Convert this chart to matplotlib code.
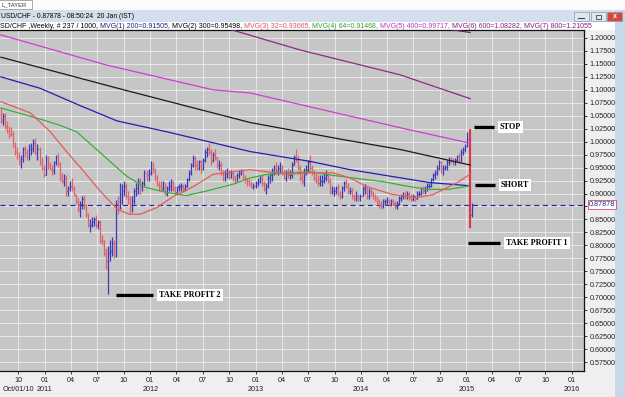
import numpy as np
import pandas as pd
import matplotlib
matplotlib.use("Agg")
import matplotlib.pyplot as plt
import matplotlib.dates as mdates
from matplotlib.patches import Rectangle

plt.rcParams['font.family'] = ['Liberation Sans', 'DejaVu Sans']

# ── DATA (weekly USD/CHF bars) ───────────────────────────────────
first_week = "2010-08-02"
first_open = 1.052
week_high = [
    # 2010
    1.064, 1.055, 1.056, 1.040, 1.030, 1.028, 1.020, 1.000, 0.990, 0.980, 0.975, 0.990, 0.992,
    0.985, 0.995, 0.998, 1.005, 1.008, 0.995, 0.990, 0.970, 0.955,
    # 2011
    0.975, 0.972, 0.960, 0.955, 0.962, 0.975, 0.978, 0.960, 0.940, 0.938, 0.935, 0.915, 0.925,
    0.930, 0.915, 0.900, 0.892, 0.885, 0.895, 0.898, 0.880, 0.862, 0.850, 0.855, 0.855, 0.858,
    0.848, 0.848, 0.820, 0.810, 0.795, 0.798, 0.810, 0.817, 0.810, 0.888, 0.895, 0.920, 0.918,
    0.925, 0.920, 0.905, 0.895, 0.895, 0.910, 0.920, 0.930, 0.930, 0.925, 0.945, 0.945, 0.948,
    # 2012
    0.962, 0.960, 0.950, 0.935, 0.925, 0.925, 0.925, 0.920, 0.915, 0.925, 0.928, 0.925, 0.915,
    0.915, 0.918, 0.920, 0.918, 0.918, 0.930, 0.945, 0.958, 0.975, 0.972, 0.965, 0.965, 0.965,
    0.968, 0.985, 0.990, 0.998, 0.985, 0.980, 0.985, 0.970, 0.965, 0.960, 0.945, 0.945, 0.950,
    0.945, 0.945, 0.942, 0.935, 0.940, 0.945, 0.948, 0.945, 0.935, 0.930, 0.928, 0.925, 0.920,
    0.925,
    # 2013
    0.930, 0.935, 0.935, 0.925, 0.920, 0.935, 0.940, 0.950, 0.955, 0.960, 0.955, 0.960, 0.955,
    0.945, 0.945, 0.950, 0.945, 0.960, 0.975, 0.985, 0.975, 0.955, 0.940, 0.950, 0.955, 0.965,
    0.975, 0.955, 0.945, 0.940, 0.935, 0.935, 0.935, 0.940, 0.945, 0.940, 0.930, 0.915, 0.912,
    0.915, 0.918, 0.905, 0.915, 0.925, 0.928, 0.920, 0.912, 0.910, 0.900, 0.905, 0.900, 0.900,
    # 2014
    0.915, 0.918, 0.912, 0.910, 0.910, 0.905, 0.900, 0.895, 0.890, 0.885, 0.890, 0.890, 0.893,
    0.890, 0.890, 0.890, 0.885, 0.885, 0.895, 0.900, 0.902, 0.905, 0.905, 0.902, 0.900, 0.900,
    0.898, 0.905, 0.905, 0.912, 0.915, 0.915, 0.920, 0.920, 0.930, 0.940, 0.945, 0.955, 0.965,
    0.962, 0.955, 0.955, 0.965, 0.970, 0.970, 0.968, 0.968, 0.975, 0.978, 0.985, 0.990, 0.995,
    # 2015
    1.018, 1.025, 0.882,
]
week_low = [
    # 2010
    1.036, 1.033, 1.025, 1.017, 1.008, 1.010, 0.990, 0.975, 0.967, 0.955, 0.950, 0.960, 0.970,
    0.964, 0.965, 0.975, 0.980, 0.975, 0.965, 0.955, 0.945, 0.932,
    # 2011
    0.935, 0.948, 0.945, 0.935, 0.938, 0.955, 0.952, 0.925, 0.920, 0.915, 0.895, 0.895, 0.905,
    0.905, 0.895, 0.880, 0.865, 0.855, 0.870, 0.870, 0.855, 0.835, 0.825, 0.835, 0.838, 0.833,
    0.832, 0.805, 0.800, 0.780, 0.755, 0.707, 0.770, 0.780, 0.775, 0.778, 0.860, 0.870, 0.880,
    0.895, 0.890, 0.880, 0.862, 0.865, 0.880, 0.895, 0.900, 0.900, 0.905, 0.915, 0.925, 0.925,
    # 2012
    0.935, 0.940, 0.925, 0.915, 0.905, 0.905, 0.905, 0.898, 0.895, 0.905, 0.905, 0.905, 0.900,
    0.900, 0.905, 0.905, 0.902, 0.905, 0.912, 0.925, 0.935, 0.952, 0.945, 0.945, 0.945, 0.940,
    0.945, 0.960, 0.970, 0.975, 0.955, 0.960, 0.965, 0.950, 0.945, 0.935, 0.925, 0.925, 0.930,
    0.928, 0.930, 0.925, 0.920, 0.925, 0.930, 0.935, 0.928, 0.920, 0.915, 0.915, 0.910, 0.908,
    0.910,
    # 2013
    0.915, 0.920, 0.915, 0.905, 0.900, 0.910, 0.920, 0.925, 0.935, 0.940, 0.935, 0.940, 0.935,
    0.928, 0.925, 0.930, 0.928, 0.930, 0.955, 0.960, 0.945, 0.925, 0.918, 0.915, 0.935, 0.940,
    0.945, 0.935, 0.925, 0.920, 0.915, 0.915, 0.915, 0.920, 0.925, 0.920, 0.900, 0.900, 0.895,
    0.900, 0.895, 0.890, 0.892, 0.905, 0.910, 0.900, 0.900, 0.890, 0.885, 0.885, 0.885, 0.885,
    # 2014
    0.895, 0.900, 0.890, 0.890, 0.895, 0.890, 0.885, 0.880, 0.873, 0.870, 0.872, 0.878, 0.880,
    0.875, 0.875, 0.878, 0.870, 0.870, 0.878, 0.885, 0.890, 0.890, 0.890, 0.888, 0.885, 0.885,
    0.885, 0.890, 0.895, 0.898, 0.900, 0.900, 0.905, 0.910, 0.912, 0.925, 0.928, 0.935, 0.945,
    0.940, 0.935, 0.945, 0.945, 0.955, 0.958, 0.955, 0.955, 0.960, 0.958, 0.960, 0.975, 0.980,
    # 2015
    0.990, 0.833, 0.855,
]
week_close = [
    # 2010
    1.040, 1.050, 1.030, 1.020, 1.015, 1.014, 0.992, 0.980, 0.970, 0.963, 0.966, 0.985, 0.980,
    0.970, 0.985, 0.988, 0.998, 0.980, 0.985, 0.960, 0.950, 0.935,
    # 2011
    0.968, 0.955, 0.950, 0.945, 0.960, 0.970, 0.958, 0.930, 0.925, 0.930, 0.905, 0.910, 0.915,
    0.910, 0.898, 0.885, 0.870, 0.880, 0.890, 0.875, 0.860, 0.840, 0.840, 0.845, 0.850, 0.840,
    0.845, 0.810, 0.808, 0.785, 0.770, 0.785, 0.790, 0.805, 0.785, 0.880, 0.875, 0.900, 0.905,
    0.915, 0.895, 0.890, 0.875, 0.885, 0.905, 0.910, 0.925, 0.912, 0.920, 0.940, 0.935, 0.940,
    # 2012
    0.950, 0.948, 0.930, 0.918, 0.915, 0.910, 0.920, 0.900, 0.910, 0.915, 0.925, 0.910, 0.903,
    0.912, 0.915, 0.915, 0.908, 0.915, 0.928, 0.940, 0.955, 0.968, 0.955, 0.950, 0.962, 0.948,
    0.965, 0.980, 0.985, 0.980, 0.965, 0.975, 0.970, 0.955, 0.955, 0.940, 0.930, 0.940, 0.940,
    0.932, 0.940, 0.930, 0.925, 0.935, 0.940, 0.945, 0.930, 0.928, 0.925, 0.918, 0.915, 0.915,
    0.920,
    # 2013
    0.925, 0.930, 0.920, 0.908, 0.915, 0.930, 0.935, 0.940, 0.950, 0.945, 0.950, 0.950, 0.940,
    0.930, 0.940, 0.935, 0.935, 0.955, 0.970, 0.965, 0.950, 0.930, 0.925, 0.940, 0.945, 0.960,
    0.950, 0.940, 0.930, 0.925, 0.920, 0.925, 0.925, 0.930, 0.935, 0.925, 0.905, 0.905, 0.905,
    0.910, 0.900, 0.895, 0.910, 0.920, 0.915, 0.905, 0.905, 0.895, 0.890, 0.895, 0.892, 0.895,
    # 2014
    0.910, 0.910, 0.895, 0.905, 0.900, 0.895, 0.890, 0.883, 0.878, 0.875, 0.885, 0.885, 0.888,
    0.880, 0.885, 0.882, 0.875, 0.880, 0.892, 0.895, 0.898, 0.895, 0.900, 0.892, 0.890, 0.895,
    0.890, 0.900, 0.900, 0.910, 0.905, 0.908, 0.915, 0.915, 0.928, 0.935, 0.940, 0.950, 0.960,
    0.945, 0.950, 0.952, 0.960, 0.965, 0.962, 0.960, 0.965, 0.972, 0.965, 0.980, 0.985, 0.992,
    # 2015
    1.005, 0.858, 0.879,
]

# moving averages (anchor points)
ma32_dates = ["2010-08-01", "2010-11-10", "2011-01-18", "2011-03-15", "2011-05-12", "2011-07-11",
              "2011-09-08", "2011-10-20", "2011-11-27", "2012-01-24", "2012-03-20", "2012-05-28",
              "2012-08-06", "2012-10-14", "2012-12-12", "2013-02-09", "2013-05-01", "2013-07-08",
              "2013-09-26", "2013-11-24", "2014-01-22", "2014-04-22", "2014-07-14", "2014-09-08",
              "2014-11-30", "2015-01-14"]
ma32_vals = [1.077, 1.056, 1.020, 0.982, 0.945, 0.905, 0.870, 0.860, 0.860, 0.873, 0.894, 0.913,
             0.937, 0.942, 0.946, 0.942, 0.937, 0.940, 0.940, 0.930, 0.913, 0.898, 0.892, 0.898,
             0.921, 0.937]
ma64_dates = ["2010-08-01", "2010-12-25", "2011-02-20", "2011-04-21", "2011-07-11", "2011-10-12",
              "2011-12-15", "2012-02-28", "2012-05-05", "2012-07-15", "2012-10-14", "2012-12-12",
              "2013-02-09", "2013-04-30", "2013-07-08", "2013-09-26", "2014-01-01", "2014-03-18",
              "2014-06-01", "2014-08-18", "2014-11-01", "2015-01-14"]
ma64_vals = [1.065, 1.042, 1.032, 1.019, 0.979, 0.933, 0.912, 0.902, 0.896, 0.905, 0.918, 0.930,
             0.937, 0.940, 0.942, 0.935, 0.928, 0.923, 0.915, 0.908, 0.908, 0.915]
ma200_dates = ["2010-08-01", "2010-12-15", "2011-05-01", "2011-09-08", "2012-02-28", "2012-12-12",
               "2013-07-08", "2013-11-24", "2014-08-28", "2015-01-14"]
ma200_vals = [1.125, 1.103, 1.070, 1.040, 1.019, 0.981, 0.962, 0.946, 0.921, 0.915]
ma300_dates = ["2010-08-01", "2011-10-01", "2012-12-12", "2013-10-31", "2014-05-16", "2015-01-14"]
ma300_vals = [1.163, 1.100, 1.037, 1.004, 0.985, 0.955]
ma400_dates = ["2010-08-01", "2011-08-01", "2012-08-06", "2012-12-12", "2014-05-16", "2015-01-14"]
ma400_vals = [1.206, 1.148, 1.100, 1.094, 1.027, 0.997]
ma600_dates = ["2012-09-01", "2013-06-03", "2014-05-16", "2015-01-14"]
ma600_vals = [1.222, 1.177, 1.129, 1.083]
ma800_dates = ["2014-09-01", "2015-01-14"]
ma800_vals = [1.222, 1.2106]

last_price = 0.87878

annot_labels = ["STOP", "SHORT", "TAKE PROFIT 1", "TAKE PROFIT 2"]
annot_price = [1.029, 0.917, 0.804, 0.704]
annot_start = ["2015-01-28", "2015-01-31", "2015-01-07", "2011-09-04"]
annot_end = ["2015-04-07", "2015-04-10", "2015-04-28", "2012-01-11"]

header_title = "USD/CHF - 0.87878 - 08:50:24  20 Jan (IST)"
header_parts = [
    ("SD/CHF ,Weekly, # 237 / 1000, ", "#000000"),
    ("MVG(1) 200=0.91505, ", "#202080"),
    ("MVG(2) 300=0.95498, ", "#000000"),
    ("MVG(3) 32=0.93665, ", "#e05060"),
    ("MVG(4) 64=0.91468, ", "#30a030"),
    ("MVG(5) 400=0.99717, ", "#c030c0"),
    ("MVG(6) 600=1.08282, ", "#802080"),
    ("MVG(7) 800=1.21055", "#802080"),
]

# ── FIGURE ───────────────────────────────────────────────
W, H = 625, 397
fig = plt.figure(figsize=(W / 100, H / 100), dpi=100, facecolor="#efefef")


def px(x0, y0, w, h):
    return [x0 / W, 1 - (y0 + h) / H, w / W, h / H]


# window chrome
chrome = fig.add_axes([0, 0, 1, 1], zorder=-5)
chrome.set_xlim(0, W)
chrome.set_ylim(H, 0)
chrome.axis("off")
chrome.add_patch(Rectangle((0, 0), W, 10, fc="#fbfbfb", ec="none"))
chrome.add_patch(Rectangle((-2, 0), 34, 9, fc="white", ec="#9a9a9a", lw=0.6))
chrome.text(1, 4.5, "L_TAYER", fontsize=4.2, va="center", color="#333333")
chrome.add_patch(Rectangle((0, 10), W, 12, fc="#d3dfec", ec="none"))
chrome.add_patch(Rectangle((0, 22), 615, 8, fc="white", ec="none"))
chrome.add_patch(Rectangle((615, 10), 10, H - 10, fc="#c7d8ea", ec="none"))
for bx, col in [(574, "#dfe6ee"), (591, "#dfe6ee"), (607, "#d9483a")]:
    chrome.add_patch(Rectangle((bx, 12), 15, 9, fc=col, ec="#8a9aae", lw=0.5))
chrome.plot([578, 584], [18, 18], color="#445", lw=0.8)
chrome.add_patch(Rectangle((596, 14.5), 5, 4, fc="none", ec="#445", lw=0.6))
chrome.text(614.5, 16.5, "x", fontsize=5, color="white", ha="center", va="center", weight="bold")
chrome.text(1, 16, header_title, fontsize=4.9, va="center", color="black")

renderer = fig.canvas.get_renderer()


def text_width(s, size):
    t = chrome.text(0, 0, s + "X", fontsize=size)
    t2 = chrome.text(0, 0, "X", fontsize=size)
    w = t.get_window_extent(renderer).width - t2.get_window_extent(renderer).width
    t.remove()
    t2.remove()
    return w


xpos = 0.0
for s, c in header_parts:
    chrome.text(xpos, 26, s, fontsize=5.0, va="center", color=c)
    xpos += text_width(s, 5.0)

# ── PRICE PANEL ──────────────────────────────────────────
ax = fig.add_axes(px(0, 30, 584, 341))
ax.set_facecolor("#c6c6c6")

dates = pd.date_range(first_week, periods=len(week_close), freq="7D")
xd = mdates.date2num(dates)
hi = np.array(week_high)
lo = np.array(week_low)
cl = np.array(week_close)
op = np.r_[first_open, cl[:-1]]
bar_cols = np.where(cl >= op, "#3a3ab8", "#e2606a")

ax.vlines(xd, lo, hi, colors=bar_cols, lw=0.9, zorder=3)
ax.hlines(op, xd - 2.5, xd, colors=bar_cols, lw=0.8, zorder=3)
ax.hlines(cl, xd, xd + 2.5, colors=bar_cols, lw=0.8, zorder=3)
# final crash bar drawn heavier
ax.vlines(xd[-2], lo[-2], hi[-2], colors="#e23040", lw=1.4, zorder=4)

ma_specs = [
    (ma800_dates, ma800_vals, "#702070"),
    (ma600_dates, ma600_vals, "#8a2a90"),
    (ma400_dates, ma400_vals, "#d23cd2"),
    (ma300_dates, ma300_vals, "#1a1a1a"),
    (ma200_dates, ma200_vals, "#2020b0"),
    (ma64_dates, ma64_vals, "#38b038"),
    (ma32_dates, ma32_vals, "#e85a5a"),
]
for dts, vals, col in ma_specs:
    ax.plot(pd.to_datetime(dts), vals, color=col, lw=0.9, zorder=5)

ax.axhline(last_price, color="#2424a8", lw=0.9, ls=(0, (4, 3)), zorder=2)

for lab, p, s, e in zip(annot_labels, annot_price, annot_start, annot_end):
    ax.plot(pd.to_datetime([s, e]), [p, p], color="black", lw=2.4,
            solid_capstyle="butt", zorder=6)
    ax.annotate(lab, xy=(pd.Timestamp(e), p), xytext=(6, 0), textcoords="offset pixels",
                ha="left", va="center", fontsize=5.9, weight="bold",
                family=["Liberation Serif", "DejaVu Serif"], zorder=7,
                bbox=dict(fc="white", ec="none", pad=1.4))

# axes, ticks, grid
ax.set_xlim(pd.Timestamp("2010-07-29"), pd.Timestamp("2016-02-13"))
ax.set_ylim(0.5577, 1.2154)

y_ticks = np.round(np.arange(0.575, 1.2001, 0.025), 3)
ax.set_yticks(y_ticks)
ax.set_yticklabels(["" if abs(v - 0.875) < 1e-6 else f"{v:.5f}" for v in y_ticks])
ax.yaxis.tick_right()

q_dates = pd.date_range("2010-10-01", "2016-01-01", freq="QS-JAN")
q_labels = []
for d in q_dates:
    lab = d.strftime("%m")
    if d == q_dates[0]:
        lab += "\nOct/01/10"
    elif d.month == 1:
        lab += "\n" + d.strftime("%Y")
    q_labels.append(lab)
ax.set_xticks(q_dates)
ax.set_xticklabels(q_labels, linespacing=1.5)

ax.tick_params(axis="both", labelsize=5.2, length=2.5, width=0.6, colors="#222222", pad=1.5)
ax.grid(True, color="#ececec", lw=0.6)
ax.set_axisbelow(True)

for side in ["top", "right", "bottom"]:
    ax.spines[side].set_color("#111111")
    ax.spines[side].set_linewidth(0.9)
ax.spines["left"].set_visible(False)

# current price tag on the axis
ax.annotate(f"{last_price:.5f}", xy=(1.0, last_price), xycoords=("axes fraction", "data"),
            xytext=(5, 0), textcoords="offset pixels", ha="left", va="center",
            fontsize=5.2, color="#202090",
            bbox=dict(fc="white", ec="#d04a6a", lw=0.6, pad=0.6))

fig.savefig("out.png", dpi=100, facecolor=fig.get_facecolor())
